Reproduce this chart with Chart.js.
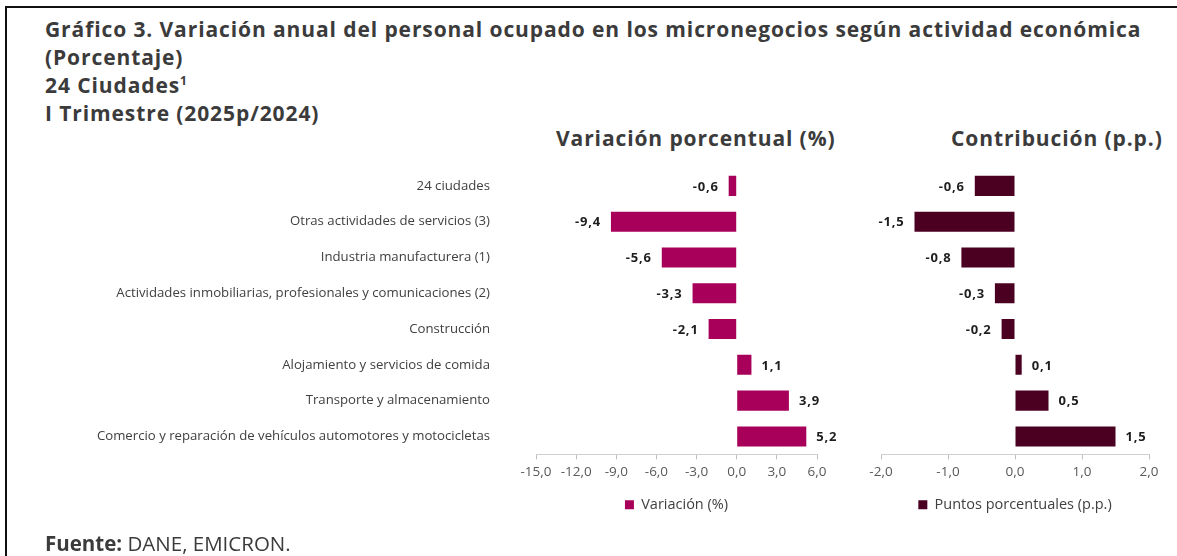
<!DOCTYPE html>
<html>
<head>
<meta charset="utf-8">
<script src="https://cdn.jsdelivr.net/npm/chart.js"></script>
<style>
  html, body { margin: 0; padding: 0; background: #fff; }
  body { width: 1177px; height: 556px; position: relative; overflow: hidden; font-family: "Open Sans", sans-serif; }
  .frame { position: absolute; left: 5px; top: 6px; right: -5px; bottom: -5px; border-top: 2px solid #111; border-left: 2px solid #111; }
  .titulo { position: absolute; left: 45px; top: 15px; font-weight: bold; font-size: 21px; letter-spacing: 0.9px; line-height: 28px; color: #3b3b3b; white-space: nowrap; }
  .titulo sup { font-size: 12px; vertical-align: 8px; line-height: 0; }
  .sub { position: absolute; top: 124px; font-weight: bold; font-size: 21px; letter-spacing: 0.9px; line-height: 28px; color: #3b3b3b; white-space: nowrap; }
  .fuente { position: absolute; left: 45px; top: 533px; font-size: 20.5px; line-height: 20px; color: #3b3b3b; white-space: nowrap; }
  .fuente b { font-weight: bold; }
  canvas { position: absolute; }
</style>
</head>
<body>
<div class="frame"></div>
<div class="titulo">
  Gráfico 3. Variación anual del personal ocupado en los micronegocios según actividad económica<br>
  (Porcentaje)<br>
  24 Ciudades<sup>1</sup><br>
  I Trimestre (2025p/2024)
</div>
<div class="sub" style="left:556px">Variación porcentual (%)</div>
<div class="sub" style="left:951px">Contribución (p.p.)</div>
<div style="position:absolute;left:0;top:150px;width:850px;height:380px"><canvas id="chartVar"></canvas></div>
<div style="position:absolute;left:850px;top:150px;width:327px;height:380px"><canvas id="chartCon"></canvas></div>
<div class="fuente"><b>Fuente:</b> DANE, EMICRON.</div>

<script>
// Datos del gráfico
const categorias = [
  '24 ciudades',
  'Otras actividades de servicios (3)',
  'Industria manufacturera (1)',
  'Actividades inmobiliarias, profesionales y comunicaciones (2)',
  'Construcción',
  'Alojamiento y servicios de comida',
  'Transporte y almacenamiento',
  'Comercio y reparación de vehículos automotores y motocicletas'
];
const variacion = [-0.6, -9.4, -5.6, -3.3, -2.1, 1.1, 3.9, 5.2];
const contribucion = [-0.6, -1.5, -0.8, -0.3, -0.2, 0.1, 0.5, 1.5];
const ticksVariacion = [-15, -12, -9, -6, -3, 0, 3, 6];
const ticksContribucion = [-2, -1, 0, 1, 2];

const colorVar = '#a8005a';
const colorCon = '#4b0022';

const formato = v => v.toFixed(1).replace('.', ',');

// Etiquetas de valor junto a cada barra
const etiquetasBarras = {
  id: 'etiquetasBarras',
  afterDatasetsDraw(chart) {
    const ctx = chart.ctx;
    ctx.save();
    ctx.font = 'bold 13px "Open Sans", sans-serif';
    ctx.letterSpacing = '0.8px';
    ctx.fillStyle = '#1e1e1e';
    ctx.textBaseline = 'middle';
    chart.data.datasets.forEach((ds, i) => {
      chart.getDatasetMeta(i).data.forEach((bar, j) => {
        const v = ds.data[j];
        if (v < 0) {
          ctx.textAlign = 'right';
          ctx.fillText(formato(v), bar.x - 10, bar.y + 1);
        } else {
          ctx.textAlign = 'left';
          ctx.fillText(formato(v), bar.x + 10, bar.y + 1);
        }
      });
    });
    ctx.restore();
  }
};

function opciones(ticks, mostrarCategorias, anchoEjeY, padding) {
  return {
    indexAxis: 'y',
    responsive: true,
    maintainAspectRatio: false,
    animation: false,
    layout: { padding: padding },
    plugins: {
      legend: {
        position: 'bottom',
        fullSize: false,
        labels: {
          boxWidth: 9,
          boxHeight: 9,
          padding: 12,
          color: '#404040',
          font: { family: '"Open Sans", sans-serif', size: 14.5 }
        }
      },
      tooltip: { enabled: false }
    },
    scales: {
      x: {
        min: ticks[0],
        max: ticks[ticks.length - 1],
        afterBuildTicks: scale => { scale.ticks = ticks.map(v => ({ value: v })); },
        grid: { drawOnChartArea: false, drawTicks: true, tickLength: 5, color: '#bfbfbf' },
        border: { display: true, color: '#d0d0d0' },
        ticks: {
          padding: 5,
          color: '#595959',
          font: { family: '"Open Sans", sans-serif', size: 13.5 },
          callback: v => formato(v)
        }
      },
      y: {
        // marcas transparentes: separan las categorías del área del gráfico
        grid: { display: mostrarCategorias, drawOnChartArea: false, drawTicks: true, tickLength: 46, color: 'rgba(0,0,0,0)' },
        border: { display: false },
        afterFit: scale => { scale.width = anchoEjeY; },
        ticks: {
          display: mostrarCategorias,
          autoSkip: false,
          padding: 0,
          color: '#404040',
          font: { family: '"Open Sans", sans-serif', size: 13.2 }
        }
      }
    }
  };
}

new Chart(document.getElementById('chartVar'), {
  type: 'bar',
  data: {
    labels: categorias,
    datasets: [{
      label: 'Variación (%)',
      data: variacion,
      backgroundColor: colorVar,
      barPercentage: 0.56,
      categoryPercentage: 1
    }]
  },
  options: opciones(ticksVariacion, true, 536, { top: 18, right: 33, bottom: 8, left: 0 }),
  plugins: [etiquetasBarras]
});

new Chart(document.getElementById('chartCon'), {
  type: 'bar',
  data: {
    labels: categorias,
    datasets: [{
      label: 'Puntos porcentuales (p.p.)',
      data: contribucion,
      backgroundColor: colorCon,
      barPercentage: 0.56,
      categoryPercentage: 1
    }]
  },
  options: opciones(ticksContribucion, false, 0, { top: 18, right: 28, bottom: 8, left: 31 }),
  plugins: [etiquetasBarras]
});
</script>
</body>
</html>
